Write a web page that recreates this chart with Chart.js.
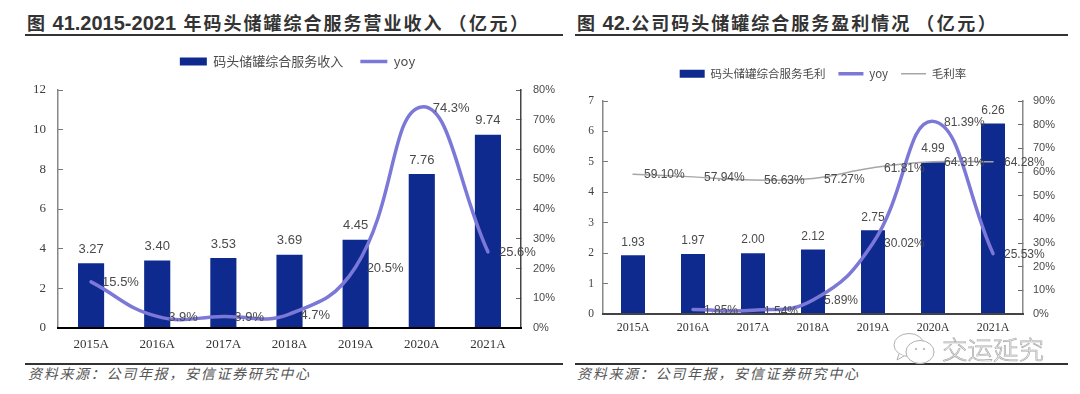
<!DOCTYPE html>
<html>
<head>
<meta charset="utf-8">
<script src="https://cdn.jsdelivr.net/npm/chart.js@4"></script>
<style>
html, body { margin: 0; padding: 0; background: #fff; width: 1080px; height: 394px; overflow: hidden; }
body { filter: blur(0.35px); }
.box { position: absolute; }
.title { position: absolute; top: 9px; font: bold 18px "Noto Sans CJK SC"; letter-spacing: 2px; color: #333; white-space: nowrap; line-height: 26px; }
.title span { font: bold 20px "Liberation Sans"; letter-spacing: 0; }
.title i { font-style: normal; margin-left: 5px; letter-spacing: 2.5px; }
.rule { position: absolute; height: 2px; background: #333; }
.source { position: absolute; top: 363px; font: italic 14px "Noto Sans CJK SC"; letter-spacing: 1.7px; color: #555; white-space: nowrap; line-height: 20px; }
.mark { position: absolute; left: 942px; top: 330px; font: 300 25.5px "Noto Sans CJK SC"; line-height: 36px; color: #fff; -webkit-text-stroke: 0.7px #aaa; white-space: nowrap; }
.icon { position: absolute; left: 892px; top: 332px; }
</style>
</head>
<body>

<div class="title" style="left:27px">图<span style="margin-right:2px"> 41.2015-2021 </span>年码头储罐综合服务营业收入<i>（亿元）</i></div>
<div class="rule" style="left:25px; width:538px; top:34px"></div>
<div class="title" style="left:577px">图<span style="margin-right:1px"> 42.</span>公司码头储罐综合服务盈利情况<i>（亿元）</i></div>
<div class="rule" style="left:575px; width:493px; top:34px"></div>

<div class="box" style="left:0; top:38px"><canvas id="RevenueCanvas" width="595" height="320" style="width:595px;height:320px"></canvas></div>
<div class="box" style="left:580px; top:55px"><canvas id="ProfitCanvas" width="486" height="289" style="width:486px;height:289px"></canvas></div>

<div class="rule" style="left:25px; width:538px; top:363px"></div>
<div class="rule" style="left:575px; width:493px; top:363px"></div>
<div class="source" style="left:28px">资料来源：公司年报，安信证券研究中心</div>
<div class="source" style="left:577px">资料来源：公司年报，安信证券研究中心</div>

<svg class="icon" width="46" height="34" fill="#fff" stroke="#b0b0b0" stroke-width="1">
    <ellipse cx="17" cy="13" rx="15" ry="11.5"/>
    <path d="M7 22 L5 28 L12 24"/>
    <ellipse cx="28" cy="20" rx="14" ry="11.5"/>
    <circle cx="24" cy="17" r="0.8"/>
    <circle cx="32" cy="17" r="0.8"/>
</svg>
<div class="mark">交运延究</div>

<script>
const years = ["2015A", "2016A", "2017A", "2018A", "2019A", "2020A", "2021A"];

const revenue = [3.27, 3.40, 3.53, 3.69, 4.45, 7.76, 9.74];
const revenueYoy = [15.5, 3.9, 3.9, 4.7, 20.5, 74.3, 25.6];

const grossProfit = [1.93, 1.97, 2.00, 2.12, 2.75, 4.99, 6.26];
const profitYoy = [null, 1.85, 1.54, 5.89, 30.02, 81.39, 25.53];
const grossMargin = [59.10, 57.94, 56.63, 57.27, 61.81, 64.31, 64.28];

const BAR_COLOR = "#0f2a8f";
const YOY_COLOR = "#7b78d8";
const MARGIN_COLOR = "#a6a6a6";
const LABEL_COLOR = "#4a4a4a";

// Value labels: bars get theirs on top, lines get theirs to the right of the point
function valueLabels(fontSize, barGap) {
    return {
        id: "valueLabels",
        afterDatasetsDraw(chart) {
            const ctx = chart.ctx;
            ctx.save();
            ctx.fillStyle = LABEL_COLOR;
            ctx.font = fontSize + 'px "Liberation Sans"';
            ctx.textBaseline = "middle";
            chart.data.datasets.forEach((dataset, i) => {
                const meta = chart.getDatasetMeta(i);
                meta.data.forEach((el, j) => {
                    const value = dataset.data[j];
                    if (value === null) return;
                    if (dataset.type === "bar") {
                        ctx.textAlign = "center";
                        ctx.fillText(value.toFixed(2), el.x, el.y - barGap);
                    } else {
                        ctx.textAlign = "left";
                        ctx.fillText(value.toFixed(dataset.labelDigits) + "%", el.x + 11, el.y + 1);
                    }
                });
            });
            ctx.restore();
        }
    };
}

// The legend box sets where the plot starts, so give it a fixed height
function legendBox(height) {
    return {
        id: "legendBox",
        beforeLayout(chart) {
            const legend = chart.legend;
            if (legend.fitDone) return;
            const fit = legend.fit;
            legend.fit = function() {
                fit.call(this);
                this.height = height;
            };
            legend.fitDone = true;
        }
    };
}

function legendItems(chart) {
    return chart.data.datasets.map(dataset => ({
        text: dataset.label,
        pointStyle: "line",
        strokeStyle: dataset.type === "bar" ? dataset.backgroundColor : dataset.borderColor,
        fillStyle: "transparent",
        lineWidth: dataset.type === "bar" ? 8 : dataset.borderWidth,
        fontColor: LABEL_COLOR
    }));
}

function barSet(label, values, width) {
    return {type: "bar", label: label, data: values, backgroundColor: BAR_COLOR, barPercentage: width, categoryPercentage: 1, yAxisID: "y", order: 3};
}

function lineSet(label, values, color, lineWidth, digits) {
    return {type: "line", label: label, data: values, borderColor: color, backgroundColor: color, borderWidth: lineWidth,
        pointRadius: 0, tension: 0.45, borderCapStyle: "round", yAxisID: "y1", order: 1, labelDigits: digits};
}

function makeChart(canvasId, datasets, o) {
    new Chart(document.getElementById(canvasId), {
        data: {labels: years, datasets: datasets},
        plugins: [legendBox(o.legendHeight), valueLabels(o.labelSize, o.barGap)],
        options: {
            responsive: false,
            animation: false,
            layout: {padding: 0},
            plugins: {
                tooltip: {enabled: false},
                legend: {
                    position: "top",
                    labels: {
                        usePointStyle: true,
                        pointStyleWidth: o.legendMark,
                        padding: o.legendPadding,
                        font: {family: "Noto Sans CJK SC", size: o.legendSize},
                        generateLabels: legendItems
                    }
                }
            },
            scales: {
                x: {
                    grid: {display: false, drawTicks: false},
                    border: {color: o.xAxisColor, width: 2, z: 1},
                    ticks: {font: {family: "Liberation Serif", size: o.xSize}, color: "#333", padding: o.xPadding, maxRotation: 0},
                    afterFit: s => { s.height = 30; }
                },
                y: {
                    position: "left",
                    min: 0, max: o.yMax,
                    grid: {drawOnChartArea: false, tickLength: -5, color: "#777"},
                    border: {color: "#888", width: 1.5},
                    ticks: {stepSize: o.yStep, font: {family: "Liberation Serif", size: o.ySize}, color: "#404040", padding: o.leftGap + 5},
                    afterFit: s => { s.width = o.leftWidth; }
                },
                y1: {
                    position: "right",
                    min: 0, max: o.y1Max,
                    grid: {drawOnChartArea: false, tickLength: -5, color: "#666"},
                    border: {color: o.rightAxisColor, width: 1.5},
                    ticks: {stepSize: 10, font: {family: "Liberation Sans", size: 11}, color: "#4a4a4a", padding: o.rightGap + 5, callback: v => v + "%"},
                    afterFit: s => { s.width = o.rightWidth; }
                }
            }
        }
    });
}

makeChart("RevenueCanvas", [
    barSet("码头储罐综合服务收入", revenue, 0.395),
    lineSet("yoy", revenueYoy, YOY_COLOR, 3.5, 1)
], {legendPadding: 17, legendHeight: 52, legendMark: 27, legendSize: 13, labelSize: 13, barGap: 14, xSize: 13, xPadding: 9, ySize: 13, yMax: 12, yStep: 2, y1Max: 80,
    leftWidth: 58, rightWidth: 74, leftGap: 12, rightGap: 12, xAxisColor: "#000", rightAxisColor: "#444"});

makeChart("ProfitCanvas", [
    barSet("码头储罐综合服务毛利", grossProfit, 0.4),
    lineSet("yoy", profitYoy, YOY_COLOR, 3.5, 2),
    lineSet("毛利率", grossMargin, MARGIN_COLOR, 1.5, 2)
], {legendPadding: 13, legendHeight: 46, legendMark: 25, legendSize: 11.5, labelSize: 12, barGap: 13, xSize: 12, xPadding: 7, ySize: 11.5, yMax: 7, yStep: 1, y1Max: 90,
    leftWidth: 23, rightWidth: 43, leftGap: 9, rightGap: 10, xAxisColor: "#444", rightAxisColor: "#888"});
</script>
</body>
</html>
